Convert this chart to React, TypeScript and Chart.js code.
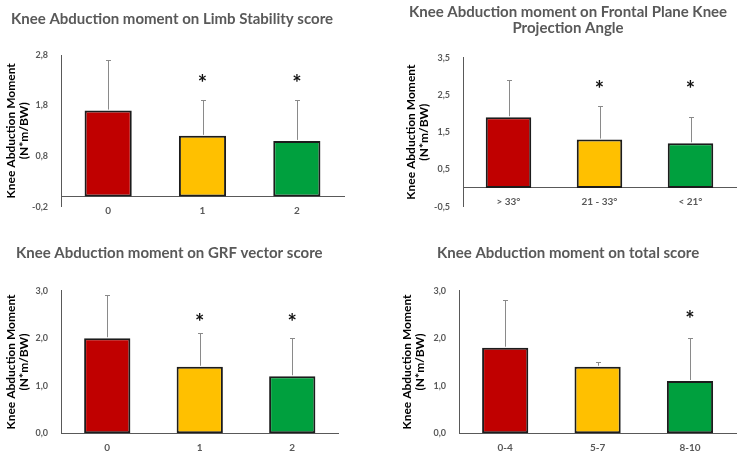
import React, { useEffect, useRef } from 'react';
import { Chart, registerables } from 'chart.js';

Chart.register(...registerables);

const FONT = 'Lato, "Open Sans", sans-serif';

// Panel 1: Limb Stability score
const limbTitle = ['Knee Abduction moment on Limb Stability score'];
const limbCategories = ['0', '1', '2'];
const limbValues = [1.7, 1.2, 1.1];
const limbSD = [1.0, 0.7, 0.8];
const limbStars = [null, 2.35, 2.35];
const limbTicks = [-0.2, 0.8, 1.8, 2.8];

// Panel 2: Frontal Plane Knee Projection Angle
const fppaTitle = ['Knee Abduction moment on Frontal Plane Knee', 'Projection Angle'];
const fppaCategories = ['> 33°', '21 - 33°', '< 21°'];
const fppaValues = [1.9, 1.3, 1.2];
const fppaSD = [1.0, 0.9, 0.7];
const fppaStars = [null, 2.8, 2.8];
const fppaTicks = [-0.5, 0.5, 1.5, 2.5, 3.5];

// Panel 3: GRF vector score
const grfTitle = ['Knee Abduction moment on GRF vector score'];
const grfCategories = ['0', '1', '2'];
const grfValues = [2.0, 1.4, 1.2];
const grfSD = [0.9, 0.7, 0.8];
const grfStars = [null, 2.45, 2.45];
const grfTicks = [0, 1, 2, 3];

// Panel 4: total score
const totalTitle = ['Knee Abduction moment on total score'];
const totalCategories = ['0-4', '5-7', '8-10'];
const totalValues = [1.8, 1.4, 1.1];
const totalSD = [1.0, 0.1, 0.9];
const totalStars = [null, null, 2.5];
const totalTicks = [0, 1, 2, 3];

const yAxisTitle = ['Knee Abduction Moment', '(N*m/BW)'];
const barColors = ['#C00000', '#FFC000', '#00A03E'];

type PanelProps = {
  box: { left: number; top: number; width: number; height: number };
  pad: { right: number; bottom: number };
  yWidth: number;
  title: string[];
  titleLine: number;
  titlePad: { top: number; bottom: number };
  axisPad: number;
  categories: string[];
  values: number[];
  sd: number[];
  stars: (number | null)[];
  ticks: number[];
};

function overlayPlugin(sd: number[], stars: (number | null)[]) {
  return {
    id: 'overlay',
    afterDatasetsDraw(chart: any) {
      const ctx = chart.ctx;
      const meta = chart.getDatasetMeta(0);
      const ys = chart.scales.y;
      const vals = chart.data.datasets[0].data as number[];
      ctx.save();
      meta.data.forEach((bar: any, i: number) => {
        const x = Math.round(bar.x) + 0.5;
        const y0 = ys.getPixelForValue(vals[i]) - 1;
        const y1 = Math.round(ys.getPixelForValue(vals[i] + sd[i])) + 0.5;
        ctx.strokeStyle = '#8a8a8a';
        ctx.lineWidth = 1;
        ctx.beginPath();
        ctx.moveTo(x, y0);
        ctx.lineTo(x, y1);
        ctx.moveTo(x - 2.5, y1);
        ctx.lineTo(x + 2.5, y1);
        ctx.stroke();
        const s = stars[i];
        if (s != null) {
          ctx.font = `bold 22px ${FONT}`;
          ctx.fillStyle = '#111';
          ctx.textAlign = 'center';
          ctx.textBaseline = 'alphabetic';
          const m = ctx.measureText('*');
          const cy = ys.getPixelForValue(s);
          const base = cy + (m.actualBoundingBoxAscent - m.actualBoundingBoxDescent) / 2;
          ctx.fillText('*', bar.x, base);
        }
      });
      ctx.restore();
    },
  };
}

const fmt = (v: number) => Number(v).toFixed(1).replace('.', ',');

function Panel(p: PanelProps) {
  const ref = useRef<HTMLCanvasElement>(null);
  useEffect(() => {
    if (!ref.current) return;
    const tickVals = p.ticks;
    const chart = new Chart(ref.current, {
      type: 'bar',
      data: {
        labels: p.categories,
        datasets: [
          {
            data: p.values,
            backgroundColor: barColors,
            borderColor: '#1c1c1c',
            borderWidth: 2,
            borderSkipped: false,
            barPercentage: 0.5,
            categoryPercentage: 1,
          },
        ],
      },
      options: {
        responsive: false,
        animation: false,
        layout: { padding: { left: 0, top: 0, right: p.pad.right, bottom: p.pad.bottom } },
        plugins: {
          legend: { display: false },
          tooltip: { enabled: false },
          title: {
            display: true,
            text: p.title,
            color: '#595959',
            font: { family: FONT, size: 15, weight: 'bold', lineHeight: `${p.titleLine}px` },
            padding: { top: p.titlePad.top, bottom: p.titlePad.bottom },
          },
        },
        scales: {
          x: {
            position: { y: 0 },
            grid: { display: false, drawTicks: false },
            border: { display: true, color: '#595959', width: 1 },
            ticks: {
              color: '#595959',
              font: { family: FONT, size: 10, weight: 'bold' },
              padding: 8,
              maxRotation: 0,
              autoSkip: false,
            },
          },
          y: {
            min: tickVals[0],
            max: tickVals[tickVals.length - 1],
            grid: { display: false, drawTicks: false },
            border: { display: true, color: '#595959', width: 1 },
            ticks: {
              color: '#595959',
              font: { family: FONT, size: 9, weight: 'bold' },
              padding: 13,
              callback: (v: any) => fmt(v),
            },
            afterBuildTicks: (s: any) => {
              s.ticks = tickVals.map((v) => ({ value: v }));
            },
            afterFit: (s: any) => {
              s.width = p.yWidth;
            },
            title: {
              display: true,
              text: yAxisTitle,
              color: '#000',
              font: { family: FONT, size: 12, weight: 'bold', lineHeight: '13.5px' },
              padding: { top: p.axisPad, bottom: 0 },
            },
          },
        },
      } as any,
      plugins: [overlayPlugin(p.sd, p.stars)],
    });
    return () => chart.destroy();
  }, []);
  return (
    <canvas
      ref={ref}
      width={p.box.width}
      height={p.box.height}
      style={{ position: 'absolute', left: p.box.left, top: p.box.top, width: p.box.width, height: p.box.height, display: 'block' }}
    />
  );
}

export default function App() {
  return (
    <div style={{ position: 'fixed', left: 0, top: 0, width: 738, height: 454, overflow: 'hidden', background: '#fff' }}>
      <Panel
        box={{ left: 0, top: 0, width: 352, height: 225 }}
        pad={{ right: 8, bottom: 15 }}
        yWidth={61}
        title={limbTitle}
        titleLine={18}
        titlePad={{ top: 10, bottom: 27 }}
        axisPad={4.25}
        categories={limbCategories}
        values={limbValues}
        sd={limbSD}
        stars={limbStars}
        ticks={limbTicks}
      />
      <Panel
        box={{ left: 400, top: 0, width: 338, height: 225 }}
        pad={{ right: 2, bottom: 12 }}
        yWidth={63}
        title={fppaTitle}
        titleLine={16}
        titlePad={{ top: 4, bottom: 21.7 }}
        axisPad={4.25}
        categories={fppaCategories}
        values={fppaValues}
        sd={fppaSD}
        stars={fppaStars}
        ticks={fppaTicks}
      />
      <Panel
        box={{ left: 0, top: 227, width: 352, height: 227 }}
        pad={{ right: 13.5, bottom: 20.7 }}
        yWidth={61}
        title={grfTitle}
        titleLine={18}
        titlePad={{ top: 17, bottom: 28.7 }}
        axisPad={4.25}
        categories={grfCategories}
        values={grfValues}
        sd={grfSD}
        stars={grfStars}
        ticks={grfTicks}
      />
      <Panel
        box={{ left: 400, top: 227, width: 346, height: 227 }}
        pad={{ right: 9.8, bottom: 20.7 }}
        yWidth={59}
        title={totalTitle}
        titleLine={18}
        titlePad={{ top: 17, bottom: 28.7 }}
        axisPad={0}
        categories={totalCategories}
        values={totalValues}
        sd={totalSD}
        stars={totalStars}
        ticks={totalTicks}
      />
    </div>
  );
}
